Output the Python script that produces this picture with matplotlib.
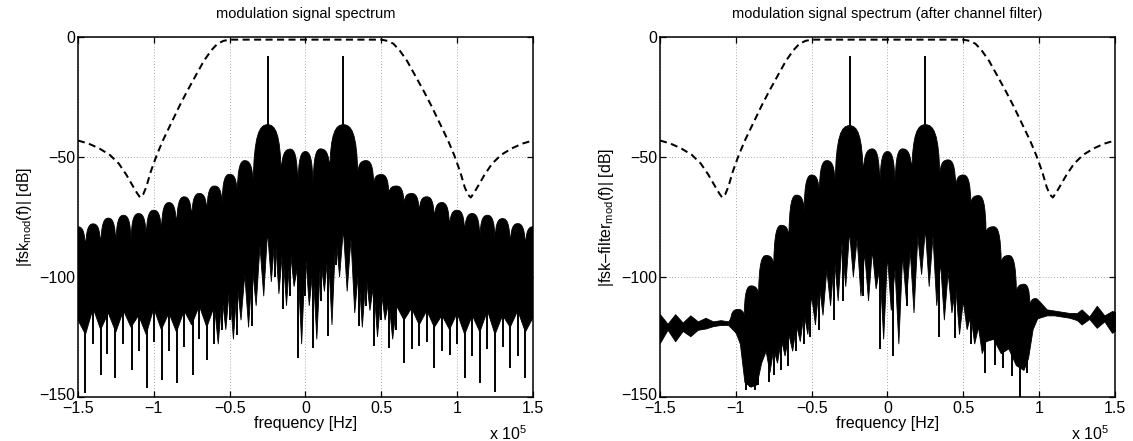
import numpy as np
import matplotlib
matplotlib.use("Agg")
import matplotlib.pyplot as plt
from matplotlib.path import Path
from matplotlib.patches import PathPatch
from matplotlib.transforms import ScaledTranslation

plt.rcParams["font.family"] = ["Liberation Sans", "DejaVu Sans"]
plt.rcParams["mathtext.fontset"] = "custom"
plt.rcParams["mathtext.rm"] = "Liberation Sans"
plt.rcParams["mathtext.it"] = "Liberation Sans:italic"
plt.rcParams["axes.unicode_minus"] = True

F_SCALE = 1e5  # frequencies below are given in units of 1e5 Hz

# ---------------- channel filter response (dashed, both panels) ----------------
FILTER_F = [-1.5, -1.43, -1.36, -1.29, -1.23, -1.18, -1.14, -1.11, -1.09, -1.07,
            -1.05, -1.02, -0.98, -0.94, -0.89, -0.83, -0.78, -0.72, -0.67, -0.62,
            -0.58, -0.54, -0.5, 0.5, 0.54, 0.58, 0.62, 0.67, 0.72, 0.78, 0.83,
            0.89, 0.94, 0.98, 1.02, 1.05, 1.07, 1.09, 1.11, 1.14, 1.18, 1.23,
            1.29, 1.36, 1.43, 1.5]
FILTER_DB = [-43, -44.3, -46.3, -49, -52.7, -57.4, -61.8, -65, -66.8, -65.5,
             -62.5, -56, -49, -43, -36.4, -28.5, -22.4, -15.5, -9.8, -5.3,
             -2.6, -1.4, -0.9, -0.9, -1.4, -2.6, -5.3, -9.8, -15.5, -22.4, -28.5,
             -36.4, -43, -49, -56, -62.5, -65.5, -66.8, -65, -61.8, -57.4, -52.7,
             -49, -46.3, -44.3, -43]

# ---------------- modulated signal spectrum (left panel) ----------------
LOBE_F_L = [-1.5, -1.4, -1.3, -1.2, -1.1, -1.0, -0.9, -0.8, -0.7, -0.6, -0.5, -0.4,
            -0.25, -0.1, 0.0, 0.1, 0.25, 0.4, 0.5, 0.6, 0.7, 0.8, 0.9, 1.0, 1.1,
            1.2, 1.3, 1.4, 1.5]
PEAK_DB_L = [-79, -77.8, -75.4, -74.2, -73.5, -72.1, -68.9, -66.5, -65.1, -62.0,
             -57.1, -51.4, -36.4, -46.6, -47.6, -46.5, -36.4, -51.4, -57.2, -62.0,
             -65.1, -66.5, -68.9, -72.1, -73.5, -74.2, -75.6, -77.7, -79]
CUSP_F_L = [-1.55, -1.45, -1.35, -1.25, -1.15, -1.05, -0.95, -0.85, -0.75, -0.65,
            -0.55, -0.45, -0.345, -0.16, -0.05, 0.05, 0.16, 0.345, 0.45, 0.55,
            0.65, 0.75, 0.85, 0.95, 1.05, 1.15, 1.25, 1.35, 1.45, 1.55]
CUSP_DB_L = [-90, -89, -88, -87, -85.5, -84, -82, -80, -76.3, -73.5, -70, -65.8,
             -61.6, -57.4, -62.5, -62.5, -56, -57.4, -61.6, -65.8, -70, -73.5,
             -76.3, -80, -82, -84.4, -85, -87, -88, -90]
FLOOR_F_L = [-1.55, -1.5, -1.45, -1.4, -1.35, -1.3, -1.25, -1.2, -1.15, -1.1, -1.05,
             -1.0, -0.95, -0.9, -0.85, -0.8, -0.75, -0.7, -0.65,
             -0.6, -0.575, -0.55, -0.525, -0.5, -0.475, -0.45, -0.425, -0.4, -0.375,
             -0.35, -0.325, -0.3, -0.275, -0.25, -0.225, -0.2, -0.175, -0.15,
             -0.125, -0.1, -0.075, -0.05, -0.025, 0.0, 0.025, 0.05, 0.075, 0.1,
             0.125, 0.15, 0.175, 0.2, 0.225, 0.25, 0.275, 0.3, 0.325, 0.35, 0.375,
             0.4, 0.425, 0.45, 0.475, 0.5, 0.525, 0.55, 0.575, 0.6,
             0.65, 0.7, 0.75, 0.8, 0.85, 0.9, 0.95, 1.0, 1.05, 1.1, 1.15, 1.2,
             1.25, 1.3, 1.35, 1.4, 1.45, 1.5, 1.55]
FLOOR_DB_L = [-118, -118, -124, -113, -122, -115, -123, -114, -121, -116, -124,
              -113, -122, -115, -123, -114, -120, -112, -121,
              -112, -128, -108, -122, -104, -126, -103, -118, -99, -121,
              -96, -112, -87, -108, -81, -102, -82, -107, -88,
              -112, -89, -104, -95, -128, -90, -112, -96, -126, -92,
              -106, -89, -120, -82, -100, -80, -106, -84, -115, -97, -121,
              -99, -114, -103, -125, -106, -118, -110, -126, -112,
              -118, -113, -120, -114, -121, -116, -122, -115, -124, -116, -123,
              -114, -124, -116, -121, -114, -123, -117, -117]
SPIKE_F_L = [-1.454, -1.35, -1.256, -1.146, -1.047, -0.948, -0.849, -0.744, -0.652,
             -0.549, -0.454, -0.351, -0.151, -0.052, 0.0, 0.05, 0.15, 0.35, 0.45,
             0.553, 0.652, 0.75, 0.85, 0.953, 1.05, 1.15, 1.25, 1.35, 1.45,
             -1.40, -1.31, -1.20, -1.10, -1.00, -0.90, -0.80, -0.70, -0.60,
             -0.50, -0.20, -0.10, 0.10, 0.20, 0.40, 0.50, 0.60, 0.70, 0.80, 0.90,
             1.00, 1.10, 1.20, 1.30, 1.40]
SPIKE_DB_L = [-148.5, -141, -142, -138.7, -146.3, -142.9, -144.2, -140.8, -134.5,
              -122, -124, -120.5, -113.5, -133.8, -108, -129.6, -124.7, -120.5,
              -128.9, -129.6, -135.9, -128.9, -138, -132.4, -142.2, -144.3, -147.8,
              -138, -142.2,
              -128, -132, -128, -131, -127, -131, -129, -126, -128, -118,
              -100, -108, -110, -95, -112, -118, -122, -130, -127, -131, -128,
              -133, -130, -129, -133]

# ---------------- spectrum after channel filter (right panel) ----------------
LOBE_F_R = [-0.985, -0.9, -0.8, -0.7, -0.6, -0.5, -0.4, -0.25, -0.1, 0.0, 0.1,
            0.25, 0.4, 0.5, 0.6, 0.7, 0.8, 0.9, 0.975]
PEAK_DB_R = [-113.5, -103.7, -91, -78.4, -65.8, -57.4, -51.4, -36.8, -46.5, -47.6,
             -46.5, -36.4, -51.1, -57.4, -66, -79, -91, -103, -109]
CUSP_F_R = [-1.035, -0.945, -0.85, -0.75, -0.65, -0.55, -0.45, -0.345, -0.16,
            -0.05, 0.05, 0.16, 0.345, 0.45, 0.55, 0.65, 0.75, 0.85, 0.94, 1.01]
CUSP_DB_R = [-119, -117, -108, -96, -84, -73, -65.5, -61.5, -58, -62.5, -62.5, -57,
             -58, -63, -70, -82, -95, -107, -113, -115]
FLOOR_F_R = [-1.0, -0.97, -0.94, -0.9, -0.86, -0.83, -0.8, -0.775, -0.75, -0.725,
             -0.7, -0.675, -0.65, -0.625, -0.6, -0.575, -0.55, -0.525, -0.5,
             -0.475, -0.45, -0.425, -0.4, -0.375, -0.35, -0.325, -0.3, -0.275,
             -0.25, -0.225, -0.2, -0.175, -0.15, -0.125, -0.1, -0.075, -0.05,
             -0.025, 0.0, 0.025, 0.05, 0.075, 0.1, 0.125, 0.15, 0.175, 0.2, 0.225,
             0.25, 0.275, 0.3, 0.325, 0.35, 0.375, 0.4, 0.425, 0.45, 0.475, 0.5,
             0.525, 0.55, 0.575, 0.6, 0.625, 0.65, 0.7, 0.75, 0.8, 0.85, 0.9, 0.93,
             0.96, 1.0]
FLOOR_DB_R = [-123, -128, -144, -146, -145, -136, -131, -140, -130, -136,
              -126, -133, -124, -131, -120, -127, -115, -124, -108,
              -120, -103, -116, -97, -112, -92, -110, -86, -104,
              -81, -100, -84, -108, -90, -110, -89, -105, -96,
              -126, -91, -114, -97, -128, -91, -110, -89, -115, -83, -99,
              -80, -104, -83, -112, -94, -118, -98, -115, -104, -124, -110,
              -122, -116, -128, -121, -132, -127, -126, -132, -130, -137, -139, -134,
              -122, -116]
SPIKE_F_R = [-0.93, -0.905, -0.875, -0.855, -0.78, -0.745, -0.70, -0.655, -0.60,
             -0.55, -0.51, -0.45, -0.35, -0.29, -0.16, -0.05, 0.035, 0.13, 0.34,
             0.447, 0.55, 0.645, 0.711, 0.76, 0.82, 0.877, 0.921]
SPIKE_DB_R = [-147, -146, -147, -145, -144, -141, -139, -137, -131, -128, -125,
              -122, -118, -110, -108, -130, -133, -112, -125, -125.4, -128, -140,
              -136.6, -138, -141.5, -151, -140]
BAND_F_RL = [-1.5, -1.45, -1.4, -1.35, -1.3, -1.25, -1.2, -1.15, -1.1, -1.05,
             -1.0, -0.96]
BAND_TOP_RL = [-115.5, -119.5, -115.5, -119, -116, -118.5, -117, -118.5, -118,
               -118.5, -113.5, -117]
BAND_BOT_RL = [-127.5, -122, -126.8, -122.5, -124.7, -122, -121.5, -120.5, -120,
               -120, -123.3, -122]
BAND_F_RR = [0.96, 1.0, 1.05, 1.1, 1.15, 1.2, 1.25, 1.28, 1.33, 1.38, 1.43, 1.48, 1.5]
BAND_TOP_RR = [-112, -110, -113.5, -114, -114.5, -115, -115, -113.5, -116.5, -112,
               -116, -114.2, -114.5]
BAND_BOT_RR = [-118, -117, -116, -116, -116.5, -117, -118, -119.8, -117.5, -121.2,
               -118.5, -123.3, -122.5]

# carrier tones of the two FSK frequencies
TONE_F = [-0.25, 0.25]
TONE_DB = [-7.7, -7.7]

XTICKS = [-1.5, -1.0, -0.5, 0.0, 0.5, 1.0, 1.5]
XTICK_LABELS = ["\u22121.5", "\u22121", "\u22120.5", "0", "0.5", "1", "1.5"]
YTICKS = [-150, -100, -50, 0]
YTICK_LABELS = ["\u2212150", "\u2212100", "\u221250", "0"]

FS = 11.5


def spectrum_patch(lobe_f, peak_db, cusp_f, cusp_db, floor_f, floor_db):
    """Closed outline: rounded side-lobe arches on top, ragged floor below."""
    lf = np.asarray(lobe_f) * F_SCALE
    cf = np.asarray(cusp_f) * F_SCALE
    verts = [(cf[0], cusp_db[0])]
    codes = [Path.MOVETO]
    for i in range(len(lf)):
        x0, y0 = cf[i], cusp_db[i]
        xp, yp = lf[i], peak_db[i]
        x1, y1 = cf[i + 1], cusp_db[i + 1]
        verts += [(x0 + 0.05 * (xp - x0), y0 + 0.85 * (yp - y0)),
                  (xp - 0.55 * (xp - x0), yp), (xp, yp)]
        verts += [(xp + 0.55 * (x1 - xp), yp),
                  (x1 - 0.05 * (x1 - xp), y1 + 0.85 * (yp - y1)), (x1, y1)]
        codes += [Path.CURVE4] * 6
    for f, d in zip(floor_f[::-1], floor_db[::-1]):
        verts.append((f * F_SCALE, d))
        codes.append(Path.LINETO)
    verts.append(verts[0])
    codes.append(Path.CLOSEPOLY)
    return PathPatch(Path(verts, codes), facecolor="black", edgecolor="black",
                     lw=0.6, zorder=3)


def draw_panel(ax, title, ylabel, lobes, peaks, cusp_f, cusp_db, floor_f,
               floor_db, spike_f, spike_db, bands=()):
    ax.add_patch(spectrum_patch(lobes, peaks, cusp_f, cusp_db, floor_f, floor_db))
    sf = np.asarray(spike_f)
    tops = np.interp(sf, floor_f, floor_db) + 4
    ax.vlines(sf * F_SCALE, spike_db, tops, color="black", lw=1.4, zorder=3)
    for bf, btop, bbot in bands:
        ax.fill_between(np.asarray(bf) * F_SCALE, bbot, btop, color="black",
                        lw=0.6, zorder=3)
    peak_at_tone = [peaks[lobes.index(f)] for f in TONE_F]
    ax.vlines(np.asarray(TONE_F) * F_SCALE, np.asarray(peak_at_tone) - 2, TONE_DB,
              color="black", lw=1.4, zorder=3)
    ax.plot(np.asarray(FILTER_F) * F_SCALE, FILTER_DB, color="black", lw=1.45,
            dashes=(3.5, 2.2), zorder=4)

    ax.set_xlim(-1.5 * F_SCALE, 1.5 * F_SCALE)
    ax.set_ylim(-150, 0)
    ax.set_xticks(np.asarray(XTICKS) * F_SCALE)
    ax.set_xticklabels(XTICK_LABELS)
    ax.set_yticks(YTICKS)
    ax.set_yticklabels(YTICK_LABELS)
    ax.tick_params(direction="in", top=True, right=True, length=4.5, width=0.9,
                   labelsize=FS, pad=2)
    ax.tick_params(axis="x", pad=3)
    # lift the bottom y label slightly so it clears the first x label
    lowest = ax.get_yticklabels()[0]
    lowest.set_transform(lowest.get_transform()
                         + ScaledTranslation(0, 3 / 100, ax.figure.dpi_scale_trans))
    ax.grid(True, color="0.55", lw=0.6, dashes=(1, 2.5))
    ax.set_axisbelow(True)
    for s in ax.spines.values():
        s.set_linewidth(1.1)
    ax.set_title(title, fontsize=FS - 1, pad=14)
    ax.set_xlabel("frequency [Hz]", fontsize=FS, labelpad=0)
    ax.set_ylabel(ylabel, fontsize=FS, labelpad=4)
    ax.text(0.988, -0.102, "x 10$^{\\mathregular{5}}$", transform=ax.transAxes,
            ha="right", va="center", fontsize=FS)


fig = plt.figure(figsize=(11.33, 4.41), dpi=100)
ax1 = fig.add_axes([0.0688, 0.1002, 0.4016, 0.8148])
ax2 = fig.add_axes([0.5825, 0.1002, 0.4016, 0.8148])

draw_panel(ax1, "modulation signal spectrum",
           "|fsk$_{\\mathregular{mod}}$(f)| [dB]",
           LOBE_F_L, PEAK_DB_L, CUSP_F_L, CUSP_DB_L, FLOOR_F_L, FLOOR_DB_L,
           SPIKE_F_L, SPIKE_DB_L)
draw_panel(ax2, "modulation signal spectrum (after channel filter)",
           "|fsk\u2013filter$_{\\mathregular{mod}}$(f)| [dB]",
           LOBE_F_R, PEAK_DB_R, CUSP_F_R, CUSP_DB_R, FLOOR_F_R, FLOOR_DB_R,
           SPIKE_F_R, SPIKE_DB_R,
           bands=[(BAND_F_RL, BAND_TOP_RL, BAND_BOT_RL),
                  (BAND_F_RR, BAND_TOP_RR, BAND_BOT_RR)])

fig.savefig("out.png", dpi=100)
